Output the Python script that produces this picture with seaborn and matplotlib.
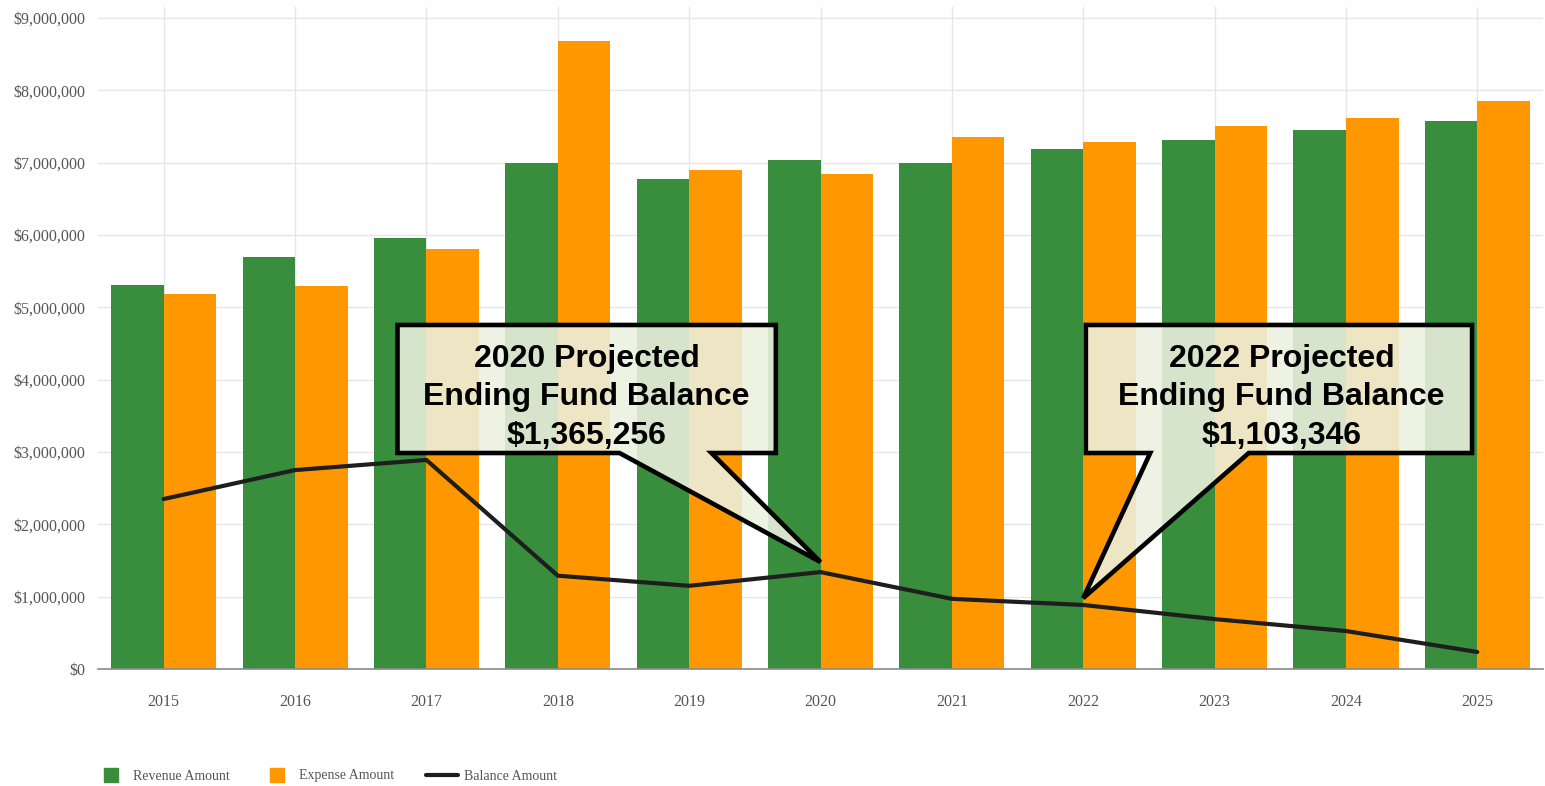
import matplotlib
matplotlib.use("Agg")
import matplotlib.pyplot as plt
import matplotlib.ticker as mticker
from matplotlib.patches import Polygon
from matplotlib.lines import Line2D
import seaborn as sns
import pandas as pd
import numpy as np

years = ["2015", "2016", "2017", "2018", "2019", "2020", "2021", "2022", "2023", "2024", "2025"]
revenue = [5310000, 5700000, 5960000, 7000000, 6770000, 7040000, 7000000, 7190000, 7310000, 7450000, 7580000]
expense = [5180000, 5300000, 5810000, 8680000, 6900000, 6840000, 7360000, 7290000, 7510000, 7620000, 7850000]
balance = [2350000, 2750000, 2890000, 1290000, 1150000, 1340000, 970000, 885000, 690000, 525000, 235000]
series_names = ["Revenue Amount", "Expense Amount", "Balance Amount"]
y_ticks = [0, 1000000, 2000000, 3000000, 4000000, 5000000, 6000000, 7000000, 8000000, 9000000]

callout_texts = ["2020 Projected\nEnding Fund Balance\n$1,365,256",
                 "2022 Projected\nEnding Fund Balance\n$1,103,346"]

GREEN = "#388E3C"
ORANGE = "#FF9800"
GRID = "#e6e6e6"
TXT = "#555555"

df = pd.DataFrame({
    "Year": years * 2,
    "Amount": revenue + expense,
    "Series": [series_names[0]] * len(years) + [series_names[1]] * len(years),
})

sns.set_style("white")
fig = plt.figure(figsize=(15.45, 7.86), dpi=100)
ax = fig.add_axes([98 / 1545, 1 - 669 / 786, 1445 / 1545, 662 / 786])

sns.barplot(data=df, x="Year", y="Amount", hue="Series", order=years,
            hue_order=series_names[:2], palette=[GREEN, ORANGE],
            width=0.8, saturation=1, errorbar=None, legend=False, ax=ax, zorder=2)
for p in ax.patches:
    p.set_edgecolor("none")

xpos = np.arange(len(years))
sns.lineplot(x=xpos, y=balance, color="#1e1e1e", linewidth=3.0, ax=ax, zorder=4)

ax.set_xlim(-0.5, len(years) - 0.5)
ax.set_ylim(0, 9152000)
ax.set_yticks(y_ticks)
ax.yaxis.set_major_formatter(mticker.FuncFormatter(lambda v, p: "${:,.0f}".format(v)))
ax.set_xlabel("")
ax.set_ylabel("")

ax.grid(True, axis="both", color=GRID, linewidth=1.0, zorder=0)
ax.set_axisbelow(True)
for s in ["left", "right", "top"]:
    ax.spines[s].set_visible(False)
ax.spines["bottom"].set_color("#8a8a8a")
ax.spines["bottom"].set_linewidth(1.2)

ax.tick_params(axis="x", length=8, color=GRID, width=1.0, pad=10,
               labelsize=11.5, labelcolor=TXT)
ax.tick_params(axis="y", length=6, color=GRID, width=1.0, pad=3,
               labelsize=11.5, labelcolor=TXT)
for lab in ax.get_xticklabels() + ax.get_yticklabels():
    lab.set_fontfamily("Liberation Serif")

# callouts (box + pointer), in data coordinates
def callout(box_l, box_r, box_b, box_t, base1, base2, tip, text, tx, ty):
    verts = [(box_l, box_t), (box_r, box_t), (box_r, box_b), (base2, box_b),
             tip, (base1, box_b), (box_l, box_b)]
    poly = Polygon(verts, closed=True, facecolor="#ECF1E0", alpha=0.88,
                   edgecolor="none", zorder=5)
    ax.add_patch(poly)
    edge = Polygon(verts, closed=True, facecolor="none", edgecolor="black",
                   linewidth=3.3, joinstyle="miter", zorder=6)
    ax.add_patch(edge)
    ax.text(tx, ty, text, ha="center", va="center",
            fontsize=23, fontweight="bold", family="Liberation Sans",
            linespacing=1.36, color="black", zorder=7)

callout(1.78, 4.66, 2986000, 4756000, 3.47, 4.17, (5.0, 1479000), callout_texts[0], 3.22, 3755000)
callout(7.02, 9.96, 2986000, 4756000, 7.51, 8.26, (7.0, 980000), callout_texts[1], 8.51, 3755000)

handles = [
    Line2D([0], [0], marker="s", linestyle="none", markersize=10,
           markerfacecolor=GREEN, markeredgecolor=GREEN),
    Line2D([0], [0], marker="s", linestyle="none", markersize=10,
           markerfacecolor=ORANGE, markeredgecolor=ORANGE),
    Line2D([0], [0], color="#1e1e1e", linewidth=3.0),
]
leg = fig.legend(handles, series_names, loc="center left",
                 bbox_to_anchor=(0.0537, 1 - 776 / 786), ncol=3, frameon=False,
                 prop={"family": "Liberation Serif", "size": 10},
                 handlelength=2.3, handletextpad=0.43, columnspacing=2.25)
for t in leg.get_texts():
    t.set_color(TXT)

fig.savefig("out.png", dpi=100)
